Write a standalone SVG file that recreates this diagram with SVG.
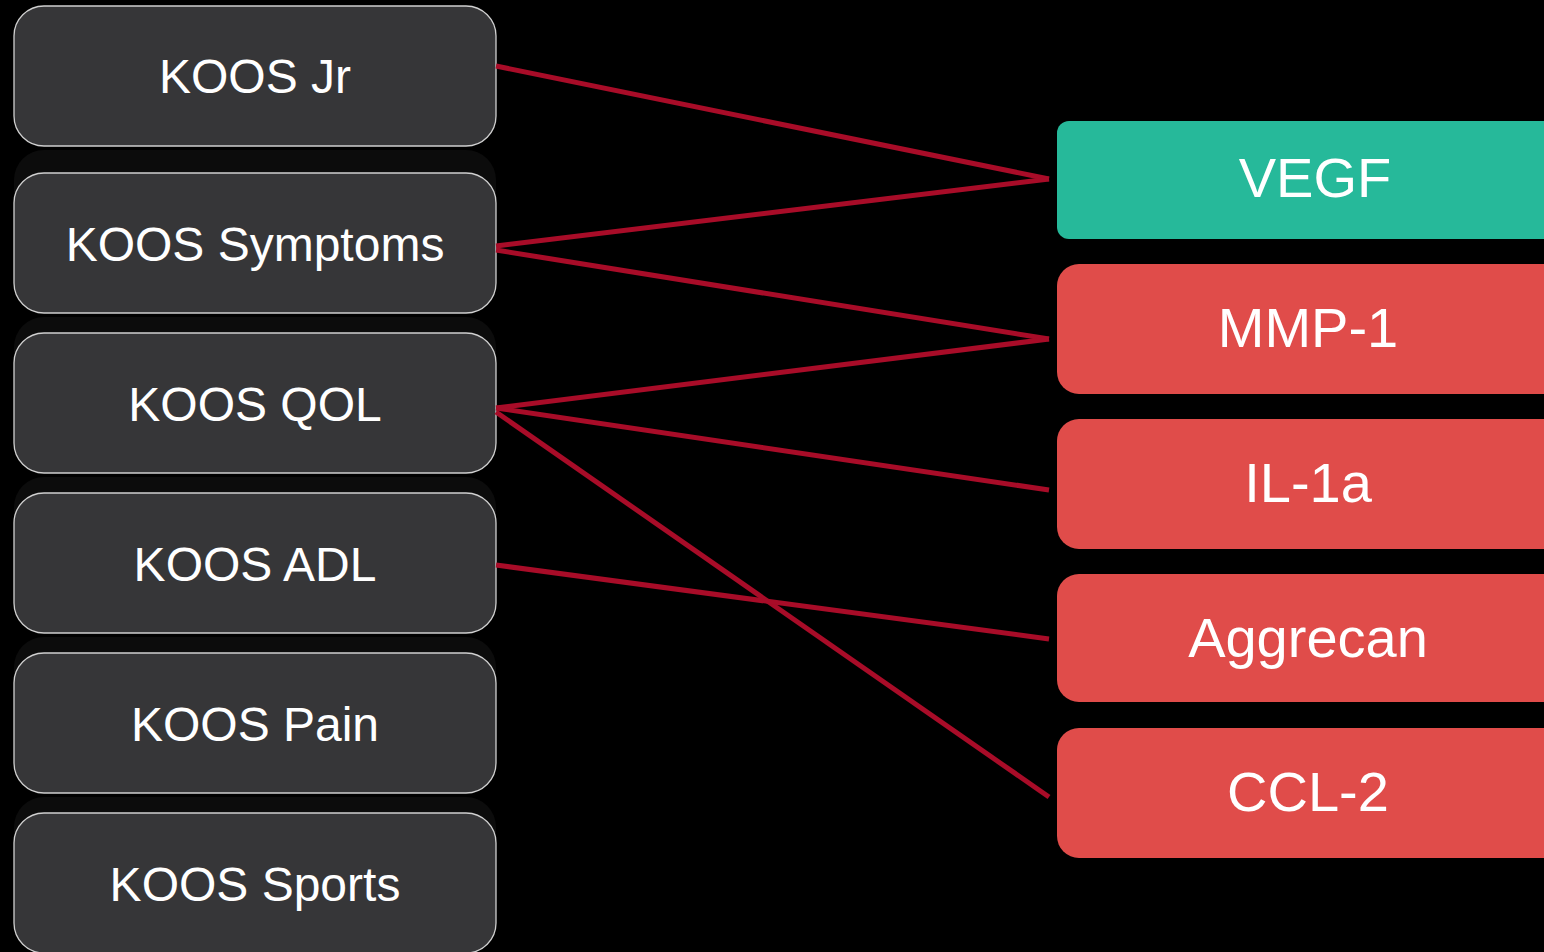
<svg xmlns="http://www.w3.org/2000/svg" width="1544" height="952" viewBox="0 0 1544 952">
<style>
.bg{fill:#000}
.sh{fill:#0c0c0c}
.lb{fill:#363638;stroke:#d0d0d0;stroke-width:1.3}
.rb{fill:#e04c4a}
.gb{fill:#26b99a}
.t{font-family:"Liberation Sans",Arial,sans-serif;fill:#fff;text-anchor:middle}
.lt{font-size:48px}
.rt{font-size:56px}
.c{stroke:#a80c28;stroke-width:5;fill:none;stroke-linecap:butt}
</style>
<rect class="bg" x="0" y="0" width="1544" height="952"/>
<g id="koos-jr"><rect class="lb" x="14" y="6" width="482" height="140" rx="30"/><text class="t lt" x="255" y="93">KOOS Jr</text></g>
<g id="koos-symptoms"><rect class="sh" x="14" y="150" width="482" height="140" rx="30"/><rect class="lb" x="14" y="173" width="482" height="140" rx="30"/><text class="t lt" x="255" y="261">KOOS Symptoms</text></g>
<g id="koos-qol"><rect class="sh" x="14" y="317" width="482" height="140" rx="30"/><rect class="lb" x="14" y="333" width="482" height="140" rx="30"/><text class="t lt" x="255" y="421">KOOS QOL</text></g>
<g id="koos-adl"><rect class="sh" x="14" y="477" width="482" height="140" rx="30"/><rect class="lb" x="14" y="493" width="482" height="140" rx="30"/><text class="t lt" x="255" y="581">KOOS ADL</text></g>
<g id="koos-pain"><rect class="sh" x="14" y="637" width="482" height="140" rx="30"/><rect class="lb" x="14" y="653" width="482" height="140" rx="30"/><text class="t lt" x="255" y="741">KOOS Pain</text></g>
<g id="koos-sports"><rect class="sh" x="14" y="797" width="482" height="140" rx="30"/><rect class="lb" x="14" y="813" width="482" height="140" rx="30"/><text class="t lt" x="255" y="901">KOOS Sports</text></g>
<g id="vegf"><rect class="gb" x="1057" y="121" width="510" height="118" rx="12"/><text class="t rt" x="1315" y="197">VEGF</text></g>
<g id="mmp-1"><rect class="rb" x="1057" y="264" width="510" height="130" rx="22"/><text class="t rt" x="1308" y="347">MMP-1</text></g>
<g id="il-1a"><rect class="rb" x="1057" y="419" width="510" height="130" rx="22"/><text class="t rt" x="1308" y="502">IL-1a</text></g>
<g id="aggrecan"><rect class="rb" x="1057" y="574" width="510" height="128" rx="22"/><text class="t rt" x="1308" y="657">Aggrecan</text></g>
<g id="ccl-2"><rect class="rb" x="1057" y="728" width="510" height="130" rx="22"/><text class="t rt" x="1308" y="811">CCL-2</text></g>
<g id="connectors">
<line class="c" x1="496" y1="66" x2="1049" y2="179"/>
<line class="c" x1="496" y1="246" x2="1049" y2="179"/>
<line class="c" x1="496" y1="250" x2="1049" y2="339"/>
<line class="c" x1="496" y1="408" x2="1049" y2="339"/>
<line class="c" x1="496" y1="408" x2="1049" y2="490"/>
<line class="c" x1="496" y1="412" x2="1049" y2="797"/>
<line class="c" x1="496" y1="565" x2="1049" y2="639"/>
</g>
</svg>
